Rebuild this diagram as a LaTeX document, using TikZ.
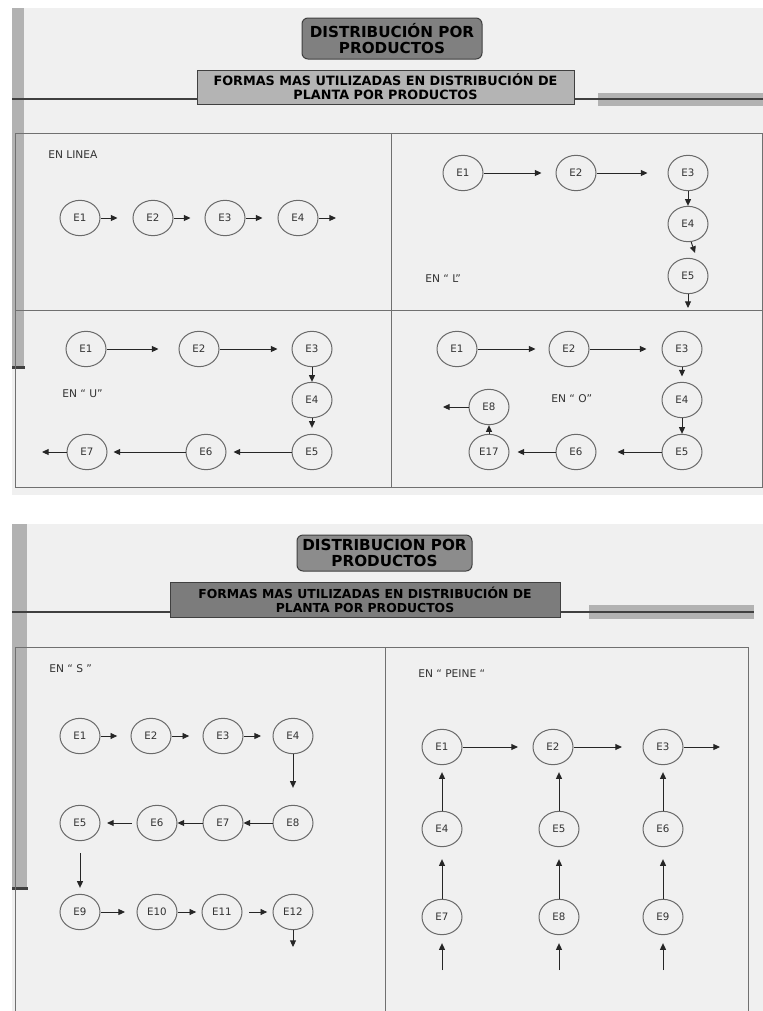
\documentclass[tikz,border=0pt]{standalone}
\usepackage{fontspec}
\setmainfont{DejaVu Sans}
\usetikzlibrary{shapes.geometric,arrows.meta}
\definecolor{bg}{HTML}{F0F0F0}
\definecolor{bar}{HTML}{B2B2B2}
\definecolor{pline}{HTML}{707070}
\definecolor{circ}{HTML}{6A6A6A}
\definecolor{txt}{HTML}{333333}
\definecolor{tfillA}{HTML}{808080}
\definecolor{sfillA}{HTML}{B4B4B4}
\definecolor{tfillB}{HTML}{8C8C8C}
\definecolor{sfillB}{HTML}{7C7C7C}
\definecolor{dk}{HTML}{404040}
\tikzset{
  st/.style={ellipse, draw=circ, line width=0.75pt, minimum width=30pt, minimum height=26.5pt, inner sep=0pt, font=\fontsize{7.7}{8}\selectfont, text=txt},
  arr/.style={-{Triangle[length=5pt,width=4.5pt]}, line width=0.7pt, draw=black!85},
  lbl/.style={anchor=west, inner sep=0pt, font=\fontsize{8}{9}\selectfont, text=txt},
  panel/.style={draw=pline, line width=0.75pt},
  titlebox/.style={draw=dk, line width=0.75pt, rounded corners=4.5pt, align=center, inner sep=0pt, font=\bfseries\fontsize{11.4}{12}\selectfont},
  subbox/.style={draw=dk, line width=0.75pt, align=center, inner sep=0pt},
  hline/.style={draw=dk, line width=1pt}
}
\begin{document}
\begin{tikzpicture}[x=0.75pt,y=-0.75pt]
\useasboundingbox (0,0) rectangle (763,1011);
\fill[white] (0,0) rectangle (763,1011);
% ---------- slide 1 ----------
\fill[bg] (12,8) rectangle (763,495);
\fill[bar] (12,8) rectangle (24,367);
\fill[dk] (12,365.5) rectangle (25,369);
\fill[bar] (598,93) rectangle (763,106);
\draw[hline] (12,99) -- (763,99);
\node[titlebox, fill=tfillA, minimum width=135pt, minimum height=30.75pt] (t1) at (392,38.5) {DISTRIBUCIÓN POR\\PRODUCTOS};
\node[subbox, fill=sfillA, minimum width=282.75pt, minimum height=25.5pt, font=\bfseries\fontsize{9.6}{10.5}\selectfont] (sub1) at (385.5,87) {FORMAS MAS UTILIZADAS EN DISTRIBUCIÓN DE\\PLANTA POR PRODUCTOS};
\draw[panel] (15,133) rectangle (762,487);
\draw[panel] (391,133) -- (391,487);
\draw[panel] (15,310) -- (762,310);
% EN LINEA
\node[lbl] (lA) at (48,155) {EN LINEA};
\node[st] (a1) at (80,218) {E1};
\node[st] (a2) at (153,218) {E2};
\node[st] (a3) at (225,218) {E3};
\node[st] (a4) at (298,218) {E4};
\coordinate (a4e) at (336,218);
\draw[arr, shorten >=11.25pt] (a1) -- (a2);
\draw[arr, shorten >=10.5pt] (a2) -- (a3);
\draw[arr, shorten >=11.25pt] (a3) -- (a4);
\draw[arr] (a4) -- (a4e);
% EN L
\node[st] (b1) at (463,173) {E1};
\node[st] (b2) at (576,173) {E2};
\node[st] (b3) at (688,173) {E3};
\node[st] (b4) at (688,224) {E4};
\node[st] (b5) at (688,276) {E5};
\coordinate (b4e) at (695,253);
\coordinate (b5e) at (688,308);
\draw[arr, shorten >=10.5pt] (b1) -- (b2);
\draw[arr, shorten >=15pt] (b2) -- (b3);
\draw[arr] (b3) -- (b4);
\draw[arr] (b4.-80) -- (b4e);
\draw[arr] (b5) -- (b5e);
\node[lbl] (lB) at (425,279) {EN “ L”};
% EN U
\node[st] (c1) at (86,349) {E1};
\node[st] (c2) at (199,349) {E2};
\node[st] (c3) at (312,349) {E3};
\node[st] (c4) at (312,400) {E4};
\node[st] (c5) at (312,452) {E5};
\node[st] (c6) at (206,452) {E6};
\node[st] (c7) at (87,452) {E7};
\coordinate (c7e) at (42,452);
\draw[arr, shorten >=15pt] (c1) -- (c2);
\draw[arr, shorten >=10.5pt] (c2) -- (c3);
\draw[arr] (c3) -- (c4);
\draw[arr, shorten >=4.5pt] (c4) -- (c5);
\draw[arr, shorten >=5.25pt] (c5) -- (c6);
\draw[arr, shorten >=4.5pt] (c6) -- (c7);
\draw[arr] (c7) -- (c7e);
\node[lbl] (lC) at (62,394) {EN “ U”};
% EN O
\node[st] (d1) at (457,349) {E1};
\node[st] (d2) at (569,349) {E2};
\node[st] (d3) at (682,349) {E3};
\node[st] (d4) at (682,400) {E4};
\node[st] (d5) at (682,452) {E5};
\node[st] (d6) at (576,452) {E6};
\node[st] (d17) at (489,452) {E17};
\node[st] (d8) at (489,407) {E8};
\coordinate (d8e) at (443,407);
\draw[arr, shorten >=9.75pt] (d1) -- (d2);
\draw[arr, shorten >=11.25pt] (d2) -- (d3);
\draw[arr, shorten >=4pt] (d3) -- (d4);
\draw[arr] (d4) -- (d5);
\draw[arr, shorten >=15.75pt] (d5) -- (d6);
\draw[arr, shorten >=6pt] (d6) -- (d17);
\draw[arr] (d17) -- (d8);
\draw[arr] (d8) -- (d8e);
\node[lbl] (lD) at (551,399) {EN “ O”};
% ---------- slide 2 ----------
\fill[bg] (12,524) rectangle (763,1011);
\fill[bar] (12,524) rectangle (27,888);
\fill[dk] (12,886.5) rectangle (28,890);
\fill[bar] (589,605) rectangle (754,619);
\draw[hline] (12,612) -- (754,612);
\node[titlebox, fill=tfillB, minimum width=131.25pt, minimum height=27pt] (t2) at (384.5,553) {DISTRIBUCION POR\\PRODUCTOS};
\node[subbox, fill=sfillB, minimum width=292.5pt, minimum height=26.25pt, font=\bfseries\fontsize{9.3}{10.5}\selectfont] (sub2) at (365,599.5) {FORMAS MAS UTILIZADAS EN DISTRIBUCIÓN DE\\PLANTA POR PRODUCTOS};
\draw[panel] (15,1011) -- (15,647) -- (748,647) -- (748,1011);
\draw[panel] (385,647) -- (385,1011);
% EN S
\node[lbl] (lS) at (49,669) {EN “ S ”};
\node[st] (s1) at (80,736) {E1};
\node[st] (s2) at (151,736) {E2};
\node[st] (s3) at (223,736) {E3};
\node[st] (s4) at (293,736) {E4};
\node[st] (s8) at (293,823) {E8};
\node[st] (s7) at (223,823) {E7};
\node[st] (s6) at (157,823) {E6};
\node[st] (s5) at (80,823) {E5};
\node[st] (s9) at (80,912) {E9};
\node[st] (s10) at (157,912) {E10};
\node[st] (s11) at (222,912) {E11};
\node[st] (s12) at (293,912) {E12};
\coordinate (s12e) at (293,947);
\draw[arr, shorten >=10pt] (s1) -- (s2);
\draw[arr, shorten >=10pt] (s2) -- (s3);
\draw[arr, shorten >=8.6pt] (s3) -- (s4);
\draw[arr, shorten >=12.75pt] (s4) -- (s8);
\draw[arr] (s8) -- (s7);
\draw[arr] (s7) -- (s6);
\draw[arr, shorten <=3.4pt, shorten >=4.9pt] (s6) -- (s5);
\draw[arr, shorten <=9pt, shorten >=4.5pt] (s5) -- (s9);
\draw[arr, shorten >=8.6pt] (s9) -- (s10);
\draw[arr, shorten >=4pt] (s10) -- (s11);
\draw[arr, shorten <=4.9pt, shorten >=4pt] (s11) -- (s12);
\draw[arr] (s12) -- (s12e);
% EN PEINE
\node[lbl] (lP) at (418,674) {EN “ PEINE “};
\node[st] (p1) at (442,747) {E1};
\node[st] (p2) at (553,747) {E2};
\node[st] (p3) at (663,747) {E3};
\node[st] (p4) at (442,829) {E4};
\node[st] (p5) at (559,829) {E5};
\node[st] (p6) at (663,829) {E6};
\node[st] (p7) at (442,917) {E7};
\node[st] (p8) at (559,917) {E8};
\node[st] (p9) at (663,917) {E9};
\coordinate (p3e) at (720,747);
\coordinate (q7) at (442,970);
\coordinate (q8) at (559,970);
\coordinate (q9) at (663,970);
\draw[arr, shorten >=10.9pt] (p1) -- (p2);
\draw[arr, shorten >=15.4pt] (p2) -- (p3);
\draw[arr] (p3) -- (p3e);
\draw[arr, shorten >=5.25pt] (p4) -- (p1);
\draw[arr, shorten >=5.25pt] (p5) -- (p5 |- p2.south);
\draw[arr, shorten >=5.25pt] (p6) -- (p3);
\draw[arr, shorten >=9pt] (p7) -- (p4);
\draw[arr, shorten >=9pt] (p8) -- (p5);
\draw[arr, shorten >=9pt] (p9) -- (p6);
\draw[arr, shorten >=6pt] (q7) -- (p7);
\draw[arr, shorten >=6pt] (q8) -- (p8);
\draw[arr, shorten >=6pt] (q9) -- (p9);
\end{tikzpicture}
\end{document}
